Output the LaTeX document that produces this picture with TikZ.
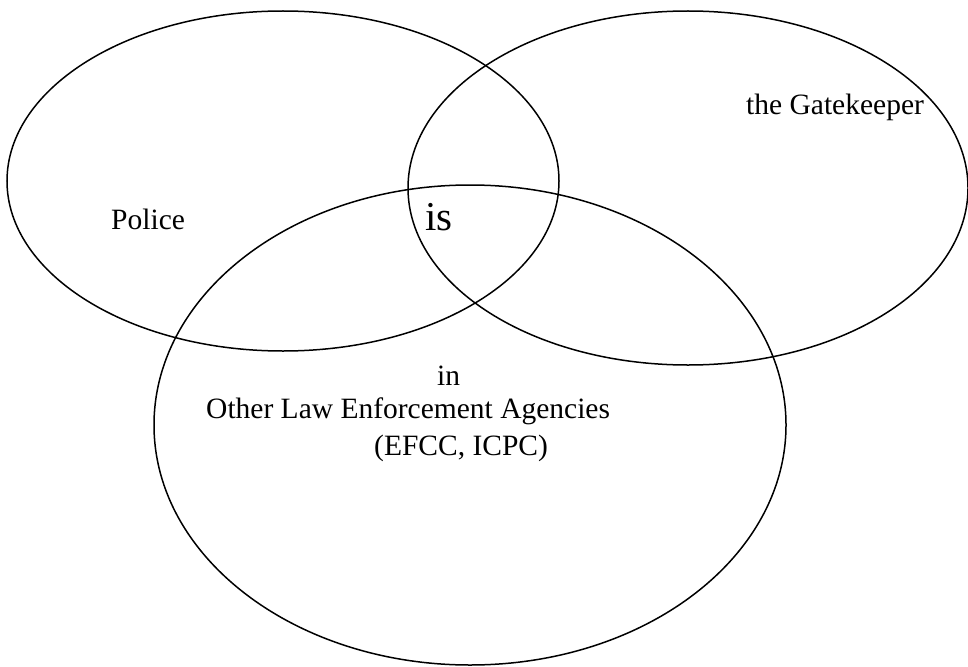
\documentclass[tikz,border=0pt]{standalone}
\usepackage{fontspec}
\setmainfont{Liberation Serif}
\usetikzlibrary{shapes.geometric}

\tikzstyle{ring}=[ellipse,draw,line width=1.5pt,inner sep=0pt,outer sep=0pt]
\tikzstyle{word}=[anchor=base west,inner sep=0pt,font=\fontsize{29.5}{35}\selectfont]
\tikzstyle{big word}=[word,font=\fontsize{41}{48}\selectfont]

\begin{document}
\begin{tikzpicture}[x=1pt,y=-1pt]
			\useasboundingbox (0,0) rectangle (968,666);
			% The three rings
			\node[ring,minimum width=552pt,minimum height=340pt] (police) at (283,181) {};
			\node[ring,minimum width=560pt,minimum height=354pt] (gate) at (688,188) {};
			\node[ring,minimum width=632pt,minimum height=480pt] (agencies) at (470,425) {};
			% Texts in the rings
			\node[word] (tpolice) at (111,229) {Police};
			\node[big word] (tis) at (425,230) {is};
			\node[word] (tgate) at (746,114) {the Gatekeeper};
			\node[word] (tin) at (437,385) {in};
			\node[word] (tother) at (206,418) {Other Law Enforcement Agencies};
			\node[word] (tefcc) at (374,455) {(EFCC, ICPC)};
		\end{tikzpicture}
\end{document}
